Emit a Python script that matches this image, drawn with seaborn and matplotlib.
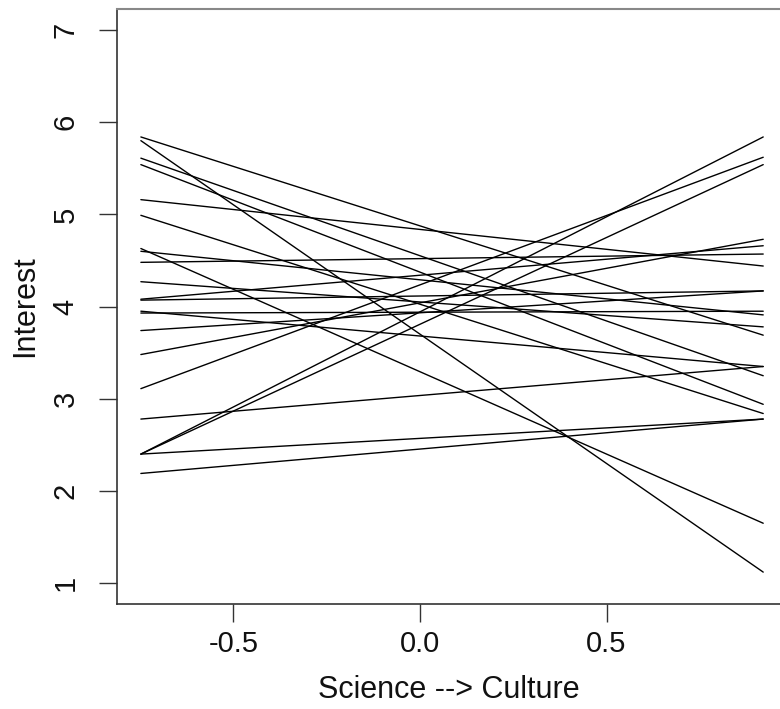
import matplotlib
matplotlib.use("Agg")
import matplotlib.pyplot as plt
import seaborn as sns
import pandas as pd

# x positions of the two ends of every line
x_left = -0.748
x_right = 0.92

# interest at the left (science) end and right (culture) end, one entry per line
interest_left = [5.84, 5.80, 5.61, 5.54, 5.16, 4.99, 4.63, 4.60, 4.48, 4.27, 4.08,
                 4.07, 3.95, 3.93, 3.74, 3.48, 3.11, 2.78, 2.40, 2.40, 2.40, 2.19]
interest_right = [3.69, 1.12, 3.25, 2.94, 4.44, 2.84, 1.65, 3.91, 4.57, 3.78, 4.66,
                  4.17, 3.35, 3.95, 4.17, 4.73, 5.62, 3.35, 5.84, 5.54, 2.78, 2.78]

x_ticks = [-0.5, 0.0, 0.5]
x_tick_labels = ["-0.5", "0.0", "0.5"]
y_ticks = [1, 2, 3, 4, 5, 6, 7]

rows = []
for i, (a, b) in enumerate(zip(interest_left, interest_right)):
    rows.append({"id": i, "x": x_left, "y": a})
    rows.append({"id": i, "x": x_right, "y": b})
df = pd.DataFrame(rows)

sns.set_theme(style="white")
plt.rcParams["font.family"] = ["Liberation Sans", "DejaVu Sans"]

fig = plt.figure(figsize=(7.8, 7.09), dpi=100)
ax = fig.add_axes([117 / 780, 105 / 709, 663 / 780, 595 / 709])

sns.lineplot(data=df, x="x", y="y", units="id", estimator=None,
             color="black", linewidth=1.0, ax=ax, legend=False)

ax.set_xlim(-0.812, 0.965)
ax.set_ylim(0.774, 7.228)
ax.set_xticks(x_ticks)
ax.set_xticklabels(x_tick_labels)
ax.set_yticks(y_ticks)
ax.set_yticklabels([str(v) for v in y_ticks], rotation=90, va="center")

ax.tick_params(axis="both", which="both", direction="out", length=13, width=1,
               color="#333333", labelsize=21, labelcolor="#111111",
               bottom=True, left=True)
ax.tick_params(axis="x", pad=6)
ax.tick_params(axis="y", pad=14)
ax.set_xlabel("Science --> Culture", fontsize=22, color="#111111", labelpad=12)
ax.set_ylabel("Interest", fontsize=22, color="#111111", labelpad=8)

for side in ["left", "bottom"]:
    ax.spines[side].set_color("#333333")
    ax.spines[side].set_linewidth(1.2)
ax.spines["top"].set_color("#888888")
ax.spines["top"].set_linewidth(1.5)
ax.spines["right"].set_visible(False)

fig.savefig("out.png", dpi=100, facecolor="white")
